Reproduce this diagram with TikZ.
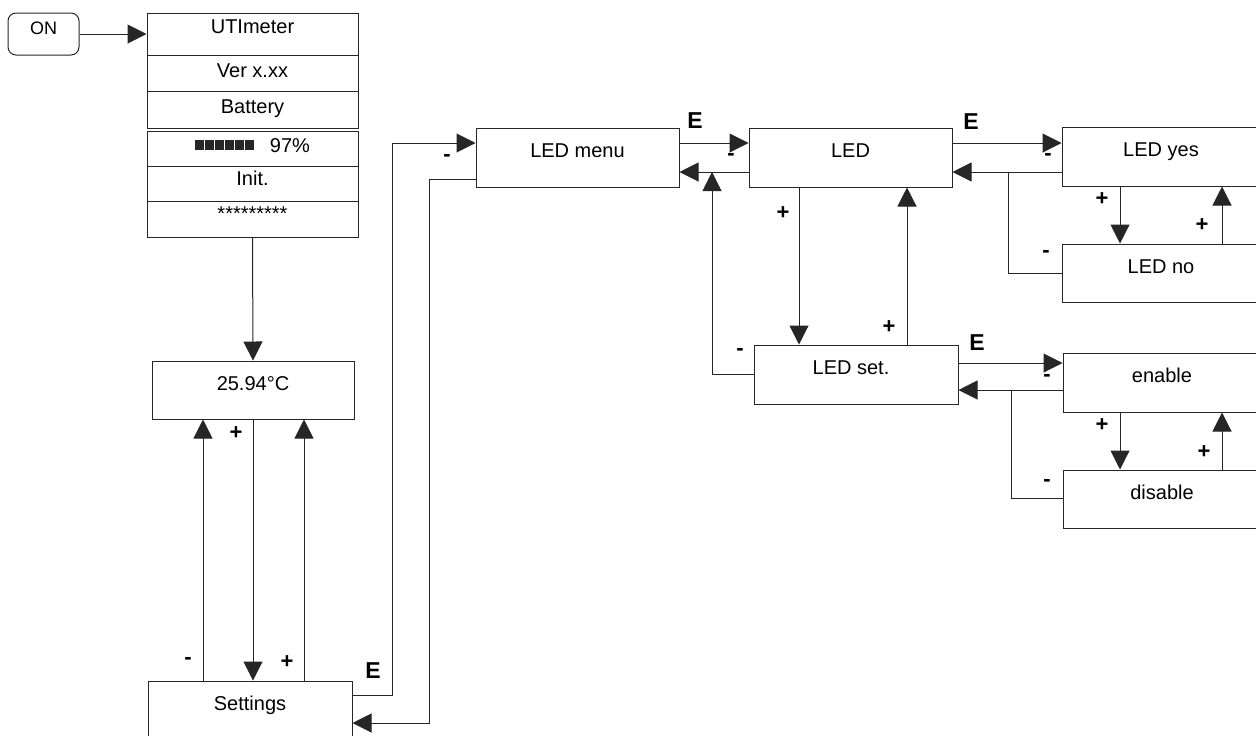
\documentclass[tikz,border=0pt]{standalone}
\usepackage{fontspec}
\setmainfont{Liberation Sans}
\usetikzlibrary{arrows.meta,calc}
\begin{document}
\begin{tikzpicture}[x=0.5pt,y=-0.5pt,
  every node/.style={font=\fontsize{10pt}{12pt}\selectfont, inner sep=0pt},
  ln/.style={draw=black!85, line width=0.5pt},
  box/.style={ln, rectangle, minimum height=29.5pt, text height=7.5pt, text depth=7.5pt},
  row/.style={ln, rectangle, minimum width=105.5pt},
  arr/.style={ln, -{Triangle[length=9.5pt,width=9.5pt]}},
  lbl/.style={font=\bfseries\fontsize{11pt}{13pt}\selectfont},
  elbl/.style={font=\bfseries\fontsize{11.5pt}{13pt}\selectfont},
]
\useasboundingbox (0,0) rectangle (1256,735);
\clip (0,0) rectangle (1256,735);

% ON button
\node[ln, rounded corners=4pt, minimum width=35.5pt, minimum height=21pt,
      text height=6pt, text depth=6pt, font=\fontsize{9pt}{10pt}\selectfont] (on) at (43.5,34) {ON};

% start-up stack
\node[row, minimum height=21pt, text height=7pt, text depth=8pt] (r1) at (252.5,34) {UTImeter};
\node[row, minimum height=18pt, text height=8pt, text depth=4pt] (r2) at (252.5,73) {Ver x.xx};
\node[row, minimum height=18.5pt, text height=8pt, text depth=4.5pt] (r3) at (252.5,109.5) {Battery};
\node[row, minimum height=17.5pt, text height=8pt, text depth=4.5pt] (r4) at (252.5,148.5) {\hspace*{37.5pt}97\%};
\node[row, minimum height=17.5pt, text height=7.5pt, text depth=6pt] (r5) at (252.5,183.5) {Init.};
\node[row, minimum height=18pt, text height=7.5pt, text depth=6pt] (r6) at (252.5,219) {*********};
% battery bar
\foreach \k in {0,...,5}{
  \fill[black!85] (195+10*\k,139.5) rectangle (203.5+10*\k,149.5);
}

% main boxes
\node[box, minimum width=101pt, minimum height=29pt] (temp) at (253,390) {25.94°C};
\node[box, minimum width=102pt] (set) at (250,710.5) {Settings};
\node[box, minimum width=101.5pt] (ledmenu) at (577.5,157.5) {LED menu};
\node[box, minimum width=101.5pt] (led) at (850.5,157.5) {LED};
\node[box, minimum width=102pt] (ledset) at (856,374.5) {\hspace*{-5pt}LED set.};
\node[box, minimum width=99pt] (ledyes) at (1161,156.5) {LED yes};
\node[box, minimum width=99pt, minimum height=29pt] (ledno) at (1161,273) {LED no};
\node[box, minimum width=99pt] (enable) at (1162,382.5) {enable};
\node[box, minimum width=99pt, minimum height=29pt] (disable) at (1162,499) {disable};

% labels
\node[lbl] (p1) at (236,433) {+};
\node[lbl] (m1) at (188,661) {-};
\node[lbl] (p2) at (287,662) {+};
\node[elbl] (e1) at (373,671) {E};
\node[lbl] (m2) at (447,158) {-};
\node[elbl] (e2) at (695,121) {E};
\node[lbl] (m3) at (731,157) {-};
\node[lbl] (p3) at (783,213) {+};
\node[lbl] (p4) at (889,327) {+};
\node[lbl] (m4) at (740,352) {-};
\node[elbl] (e3) at (971,122) {E};
\node[lbl] (m5) at (1048,157) {-};
\node[lbl] (m6) at (1046,254) {-};
\node[lbl] (p5) at (1102,199) {+};
\node[lbl] (p6) at (1202,225) {+};
\node[elbl] (e4) at (977,343) {E};
\node[lbl] (m7) at (1047,378) {-};
\node[lbl] (m8) at (1047,483) {-};
\node[lbl] (p7) at (1102,425) {+};
\node[lbl] (p8) at (1204,452) {+};

% connectors
\draw[arr] (on.east) -- (on.east -| r1.west);
\draw[arr] (r6.south) -- (temp.north);
\draw[arr] (203,0 |- set.north) -- (203,0 |- temp.south);
\draw[arr] (253,0 |- temp.south) -- (253,0 |- set.north);
\draw[arr] (304,0 |- set.north) -- (304,0 |- temp.south);
\draw[arr] (set.east |- 0,695) -- (392,695) -- (392,143) -- (ledmenu.west |- 0,143);
\draw[arr] (ledmenu.west |- 0,179) -- (429,179) -- (429,723) -- (set.east |- 0,723);
\draw[arr] (ledmenu.east |- 0,143) -- (led.west |- 0,143);
\draw[arr] (led.west |- 0,172) -- (ledmenu.east |- 0,172);
\draw[arr] (ledset.west |- 0,374) -- (712,374) -- (712,172);
\draw[arr] (799,0 |- led.south) -- (799,0 |- ledset.north);
\draw[arr] (907,0 |- ledset.north) -- (907,0 |- led.south);
\draw[arr] (led.east |- 0,143) -- (ledyes.west |- 0,143);
\draw[arr] (ledyes.west |- 0,172) -- (led.east |- 0,172);
\draw[ln] (1008,172) -- (1008,273) -- (ledno.west |- 0,273);
\draw[arr] (1120,0 |- ledyes.south) -- (1120,0 |- ledno.north);
\draw[arr] (1222,0 |- ledno.north) -- (1222,0 |- ledyes.south);
\draw[arr] (ledset.east |- 0,363) -- (enable.west |- 0,363);
\draw[arr] (enable.west |- 0,390) -- (ledset.east |- 0,390);
\draw[ln] (1011,390) -- (1011,498) -- (disable.west |- 0,498);
\draw[arr] (1120,0 |- enable.south) -- (1120,0 |- disable.north);
\draw[arr] (1222,0 |- disable.north) -- (1222,0 |- enable.south);
\end{tikzpicture}
\end{document}
